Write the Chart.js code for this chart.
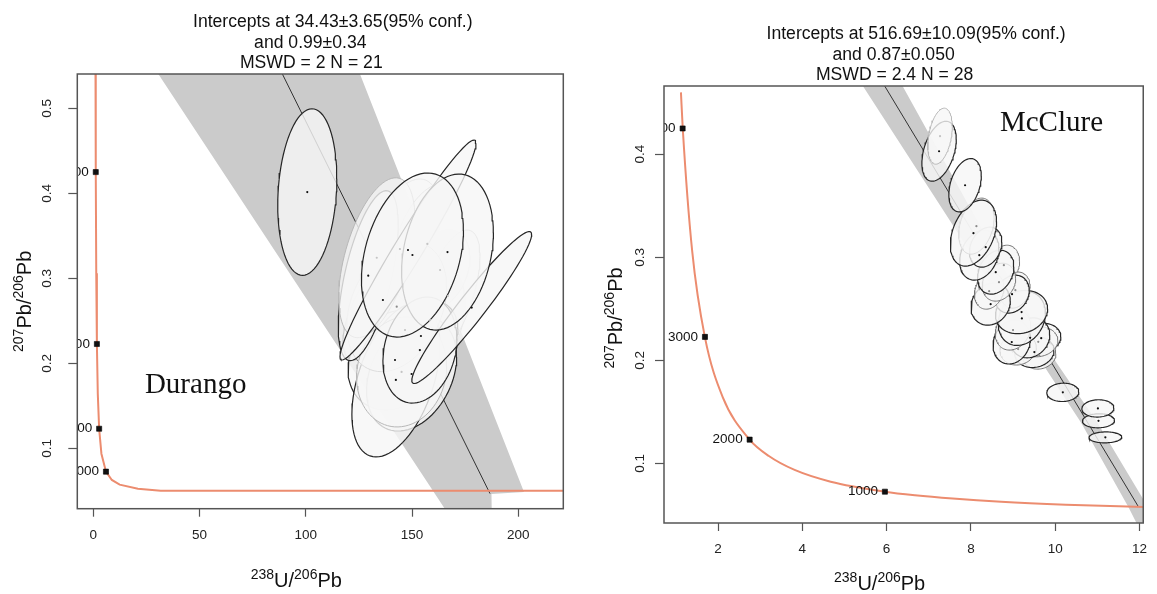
<!DOCTYPE html>
<html>
<head>
<meta charset="utf-8">
<script src="https://cdn.jsdelivr.net/npm/chart.js@4.4.1/dist/chart.umd.min.js"></script>
<style>
  html, body { margin: 0; padding: 0; background: #fff; }
  #wrap { position: relative; width: 1157px; height: 594px; overflow: hidden; }
  canvas { position: absolute; top: 0; }
  #durango { left: 0; }
  #mcclure { left: 580px; }
</style>
</head>
<body>
<div id="wrap">
  <canvas id="durango" width="580" height="594"></canvas>
  <canvas id="mcclure" width="577" height="594"></canvas>
</div>
<script>
// Concordia age marks (Ma) shared by both diagrams
const ageLabels = ['1000', '2000', '3000', '4000'];
const ageX = [5.96, 2.75, 1.69, 1.16];
const ageY = [0.0725, 0.123, 0.2227, 0.425];

// ---- Durango ----
const durangoTitle = ['Intercepts at 34.43\u00b13.65(95% conf.)', 'and 0.99\u00b10.34', 'MSWD = 2 N = 21'];
const durangoXTicks = [0, 50, 100, 150, 200];
const durangoYTicks = [0.1, 0.2, 0.3, 0.4, 0.5];
const durangoCurveX = [1.02, 1.16, 1.39, 1.69, 2.11, 2.75, 3.82, 5.96, 8.72, 12.4, 21.0, 31.7, 225];
const durangoCurveY = [0.557, 0.425, 0.306, 0.2227, 0.1643, 0.123, 0.0936, 0.0725, 0.0627, 0.0572, 0.0523, 0.0501, 0.0500];
const durangoLineX = [0, 186.7];
const durangoLineY = [0.99, 0.0467];
const durangoBandX = [30.6, 125.5, 202.7, 187.4, 187.5, 165.5];
const durangoBandY = [0.5404, 0.5404, 0.0486, 0.0462, 0.0286, 0.0286];
const durangoX = [100.7, 150.2, 166.7, 148.1, 178.1, 133.4, 129.4, 153.7, 145.1, 142.8, 142.4, 149.8, 142.0, 154.2, 166.9, 157.2, 144.3, 163.2, 136.3, 146.7, 158.5];
const durangoY = [0.4015, 0.3274, 0.3309, 0.3333, 0.2656, 0.3242, 0.3031, 0.2156, 0.1898, 0.2666, 0.1804, 0.1874, 0.2039, 0.2321, 0.2792, 0.3404, 0.3345, 0.3098, 0.2745, 0.2392, 0.2509];
const durangoSx = [13.9, 24.0, 21.6, 32.0, 28.2, 17.9, 14.1, 17.4, 21.2, 23.5, 20.7, 21.2, 22.1, 17.4, 15.1, 16.5, 18.8, 14.1, 18.8, 18.8, 16.5];
const durangoSy = [0.098, 0.0965, 0.0918, 0.1294, 0.0894, 0.0941, 0.100, 0.0624, 0.0647, 0.0765, 0.0906, 0.0671, 0.0588, 0.0435, 0.0776, 0.0706, 0.0824, 0.0471, 0.0706, 0.0529, 0.0647];
const durangoRho = [0.16, 0.3, 0.25, 0.97, 0.96, 0.5, 0.6, 0.2, 0.1, 0.3, 0.45, 0.3, 0.2, 0.2, 0.6, 0.4, 0.5, 0.3, 0.7, 0.2, 0.3];

// ---- McClure ----
const mcclureTitle = ['Intercepts at 516.69\u00b110.09(95% conf.)', 'and 0.87\u00b10.050', 'MSWD = 2.4 N = 28'];
const mcclureXTicks = [2, 4, 6, 8, 10, 12];
const mcclureYTicks = [0.1, 0.2, 0.3, 0.4];
const mcclureCurveX = [1.12, 1.163, 1.387, 1.687, 2.111, 2.749, 3.206, 3.817, 4.673, 5.959, 6.674, 7.568, 8.718, 10.252, 12.146];
const mcclureCurveY = [0.460, 0.425, 0.3059, 0.2227, 0.1643, 0.1230, 0.1071, 0.0936, 0.0822, 0.0725, 0.0690, 0.0658, 0.0627, 0.0599, 0.0575];
const mcclureLineX = [0, 11.98];
const mcclureLineY = [0.87, 0.0576];
const mcclureBandX = [5.441, 9.592, 10.620, 11.737, 11.93, 12.15, 12.2, 11.007, 9.935, 6.382];
const mcclureBandY = [0.466, 0.2034, 0.1391, 0.0576, 0.0421, 0.0421, 0.0576, 0.1391, 0.2034, 0.466];
const mcclureX = [7.268, 7.245, 7.862, 8.061, 8.131, 8.352, 8.200, 8.590, 8.667, 8.434, 8.469, 8.977, 9.056, 9.203, 9.210, 9.000, 8.970, 9.406, 9.121, 9.599, 9.506, 9.622, 9.669, 10.182, 11.014, 11.028, 11.191, 8.783];
const mcclureY = [0.4175, 0.4029, 0.3699, 0.3234, 0.3302, 0.3098, 0.3020, 0.2855, 0.2758, 0.2671, 0.2545, 0.2642, 0.2681, 0.2468, 0.2406, 0.2293, 0.2177, 0.2218, 0.2109, 0.2179, 0.2080, 0.2050, 0.2215, 0.1689, 0.1533, 0.1413, 0.1252, 0.2923];
const mcclureSx = [0.291, 0.408, 0.385, 0.548, 0.42, 0.385, 0.466, 0.431, 0.396, 0.35, 0.466, 0.408, 0.35, 0.618, 0.559, 0.42, 0.443, 0.466, 0.431, 0.466, 0.466, 0.396, 0.466, 0.38, 0.38, 0.38, 0.389, 0.373];
const mcclureSy = [0.0272, 0.0291, 0.0259, 0.0320, 0.0272, 0.0194, 0.0242, 0.0213, 0.0184, 0.0175, 0.0204, 0.0184, 0.0175, 0.0210, 0.0262, 0.0194, 0.0213, 0.0194, 0.0155, 0.0145, 0.0150, 0.0136, 0.0145, 0.0089, 0.0084, 0.0068, 0.0053, 0.0194];
const mcclureRho = [0.35, 0.4, 0.35, 0.35, 0.3, 0.25, 0.25, 0.25, 0.2, 0.2, 0.15, 0.2, 0.2, 0.15, 0.2, 0.2, 0.15, 0.15, 0.1, 0.1, 0.1, 0.1, 0.1, 0.05, 0.05, 0.05, 0.05, 0.2];

// outline shade of each ellipse: 0 dark, 1 mid, 2 faint
const durangoShade = [0, 0, 0, 0, 0, 2, 0, 0, 2, 1, 0, 0, 0, 0, 2, 2, 2, 2, 0, 2, 2];
const mcclureShade = [2, 0, 0, 0, 1, 0, 0, 0, 1, 1, 0, 0, 1, 0, 0, 1, 0, 0, 1, 1, 0, 1, 0, 0, 0, 0, 0, 1];

const SANS = '"Liberation Sans", Arial, Helvetica, sans-serif';
const SERIF = '"Liberation Serif", "Times New Roman", serif';
const edgeColors = ['#262626', '#777777', '#b8b8b8'];
const edgeWidths = [1.2, 1, 1];
const dotColors = ['#111111', '#8a8a8a', '#c4c4c4'];

const pts = (xs, ys) => xs.map((x, i) => ({ x, y: ys[i] }));

// error ellipse outline from centre, half-extents and correlation
function ellipsePoints(cx, cy, sx, sy, rho) {
  const out = [];
  const k = Math.sqrt(1 - rho * rho);
  for (let i = 0; i <= 80; i++) {
    const t = i / 80 * 2 * Math.PI;
    out.push({ x: cx + sx * Math.cos(t), y: cy + sy * (rho * Math.cos(t) + k * Math.sin(t)) });
  }
  return out;
}

// superscripted isotope label, centred on (cx, cy)
function isotopeLabel(ctx, parts, cx, cy) {
  let w = 0;
  parts.forEach(([t, sup]) => { ctx.font = (sup ? '14px ' : '20px ') + SANS; w += ctx.measureText(t).width; });
  let x = -w / 2;
  ctx.save();
  ctx.translate(cx, cy);
  ctx.textAlign = 'left';
  ctx.textBaseline = 'alphabetic';
  ctx.fillStyle = '#111';
  parts.forEach(([t, sup]) => {
    ctx.font = (sup ? '14px ' : '20px ') + SANS;
    ctx.fillText(t, x, sup ? -1 : 7);
    x += ctx.measureText(t).width;
  });
  ctx.restore();
}
const xAxisParts = [['238', true], ['U/', false], ['206', true], ['Pb', false]];
const yAxisParts = [['207', true], ['Pb/', false], ['206', true], ['Pb', false]];

const decor = {
  id: 'decor',
  afterDatasetsDraw(chart, args, o) {
    const { ctx, chartArea: a, scales: { x, y } } = chart;
    // age labels next to the concordia marks, clipped to the plot box
    ctx.save();
    ctx.beginPath();
    ctx.rect(a.left, a.top, a.right - a.left, a.bottom - a.top);
    ctx.clip();
    ctx.font = '13.5px ' + SANS;
    ctx.fillStyle = '#111';
    ctx.textAlign = 'right';
    ctx.textBaseline = 'middle';
    ageLabels.forEach((lab, i) => {
      ctx.fillText(lab, x.getPixelForValue(ageX[i]) - 7, y.getPixelForValue(ageY[i]));
    });
    ctx.font = '29px ' + SERIF;
    ctx.textAlign = 'left';
    ctx.textBaseline = 'alphabetic';
    ctx.fillText(o.tag, x.getPixelForValue(o.tagAt[0]), y.getPixelForValue(o.tagAt[1]));
    ctx.restore();
  },
  afterDraw(chart, args, o) {
    const { ctx, chartArea: a, scales: { y } } = chart;
    const mid = (a.left + a.right) / 2;
    ctx.save();
    ctx.strokeStyle = '#555';
    ctx.lineWidth = 1.5;
    ctx.strokeRect(a.left, a.top, a.right - a.left, a.bottom - a.top);

    // y tick labels, rotated like base R
    ctx.fillStyle = '#222';
    ctx.font = '13.5px ' + SANS;
    ctx.textAlign = 'center';
    ctx.textBaseline = 'middle';
    y.ticks.forEach(t => {
      ctx.save();
      ctx.translate(o.yLabelX, y.getPixelForValue(t.value));
      ctx.rotate(-Math.PI / 2);
      ctx.fillText(String(t.value), 0, 0);
      ctx.restore();
    });

    // three-line fit summary
    ctx.fillStyle = '#111';
    ctx.font = '17.6px ' + SANS;
    const dx = [12.5, -10, -9];
    const dy = [-51.5, -31, -10.5];
    o.title.forEach((line, i) => ctx.fillText(line, mid + dx[i], a.top + dy[i]));

    isotopeLabel(ctx, xAxisParts, mid - 24, o.xTitleY);
    ctx.translate(o.yTitleX, (a.top + a.bottom) / 2 + o.yTitleShift);
    ctx.rotate(-Math.PI / 2);
    isotopeLabel(ctx, yAxisParts, 0, 0);
    ctx.restore();
  }
};

function buildPanel(p) {
  const datasets = [];
  datasets.push({
    data: pts(p.bandX, p.bandY), fill: 'shape', backgroundColor: '#cbcbcb',
    borderColor: 'rgba(0,0,0,0)', pointRadius: 0, order: 100, clip: 0
  });
  datasets.push({
    data: pts(p.lineX, p.lineY), borderColor: '#333', borderWidth: 1,
    pointRadius: 0, fill: false, order: 90, clip: 0
  });
  p.ex.forEach((cx, i) => {
    datasets.push({
      data: ellipsePoints(cx, p.ey[i], p.esx[i], p.esy[i], p.erho[i]),
      fill: 'shape', backgroundColor: 'rgba(246,246,246,0.8)',
      borderColor: edgeColors[p.shade[i]], borderWidth: edgeWidths[p.shade[i]],
      pointRadius: 0, order: 80, clip: 0
    });
  });
  datasets.push({
    data: pts(p.curveX, p.curveY), borderColor: '#EC8C6F', borderWidth: 2,
    pointRadius: 0, fill: false, cubicInterpolationMode: p.curveMode, order: 10, clip: 0
  });
  datasets.push({
    data: pts(p.ex, p.ey), showLine: false, pointRadius: 1.1, pointBorderWidth: 0,
    pointBackgroundColor: p.shade.map(s => dotColors[s]), order: 5, clip: 0
  });
  datasets.push({
    data: pts(ageX, ageY), showLine: false, pointStyle: 'rect', pointRadius: 3.6,
    pointBorderWidth: 0.6, pointBorderColor: '#000', pointBackgroundColor: '#111', order: 1, clip: 0
  });

  return new Chart(document.getElementById(p.canvas), {
    type: 'line',
    data: { datasets },
    options: {
      responsive: false,
      animation: false,
      events: [],
      layout: { padding: { top: p.gaps.top, right: p.gaps.right, left: 0, bottom: 0 } },
      plugins: {
        legend: { display: false },
        tooltip: { enabled: false },
        decor: p.decor
      },
      scales: {
        x: {
          type: 'linear', min: p.xRange[0], max: p.xRange[1],
          afterBuildTicks: s => { s.ticks = p.xTicks.map(v => ({ value: v })); },
          afterFit: s => { s.height = p.gaps.bottom; },
          border: { display: false },
          grid: { drawOnChartArea: false, drawTicks: true, tickLength: 8, tickColor: '#555', tickWidth: 1.2 },
          ticks: { color: '#222', font: { family: SANS, size: 13.5 }, padding: 10, maxRotation: 0, autoSkip: false, callback: v => String(v) }
        },
        y: {
          type: 'linear', min: p.yRange[0], max: p.yRange[1],
          afterBuildTicks: s => { s.ticks = p.yTicks.map(v => ({ value: v })); },
          afterFit: s => { s.width = p.gaps.left; },
          border: { display: false },
          grid: { drawOnChartArea: false, drawTicks: true, tickLength: 9, tickColor: '#555', tickWidth: 1.2 },
          ticks: { display: false }
        }
      }
    },
    plugins: [decor]
  });
}

buildPanel({
  canvas: 'durango',
  xRange: [-7.53, 221.2], yRange: [0.0289, 0.5404],
  xTicks: durangoXTicks, yTicks: durangoYTicks,
  gaps: { left: 77.3, top: 74, right: 16.7, bottom: 85.3 },
  bandX: durangoBandX, bandY: durangoBandY,
  lineX: durangoLineX, lineY: durangoLineY,
  curveX: durangoCurveX, curveY: durangoCurveY, curveMode: 'default',
  ex: durangoX, ey: durangoY, esx: durangoSx, esy: durangoSy, erho: durangoRho, shade: durangoShade,
  decor: { title: durangoTitle, tag: 'Durango', tagAt: [24.3, 0.165], yLabelX: 47, yTitleX: 24, yTitleShift: 10, xTitleY: 580 }
});

buildPanel({
  canvas: 'mcclure',
  xRange: [0.718, 12.09], yRange: [0.0421, 0.4662],
  xTicks: mcclureXTicks, yTicks: mcclureYTicks,
  gaps: { left: 84, top: 86, right: 5.3, bottom: 71 },
  bandX: mcclureBandX, bandY: mcclureBandY,
  lineX: mcclureLineX, lineY: mcclureLineY,
  curveX: mcclureCurveX, curveY: mcclureCurveY, curveMode: 'monotone',
  ex: mcclureX, ey: mcclureY, esx: mcclureSx, esy: mcclureSy, erho: mcclureRho, shade: mcclureShade,
  decor: { title: mcclureTitle, tag: 'McClure', tagAt: [8.69, 0.4223], yLabelX: 60, yTitleX: 35, yTitleShift: 13.5, xTitleY: 583 }
});
</script>
</body>
</html>
